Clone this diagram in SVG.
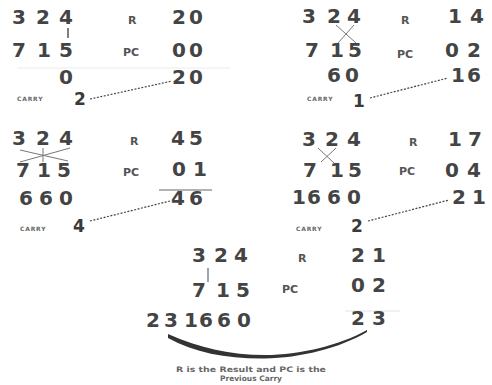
<svg xmlns="http://www.w3.org/2000/svg" width="492" height="385" viewBox="0 0 492 385">
<style>
.d{font-family:"DejaVu Sans",Verdana,sans-serif;font-size:20px;font-weight:bold;fill:#444}
.c{font-family:"DejaVu Sans",Verdana,sans-serif;font-size:17px;font-weight:bold;fill:#3a3a3a}
.l{font-family:"DejaVu Sans",Verdana,sans-serif;font-size:11px;font-weight:bold;fill:#555}
.s{font-family:"DejaVu Sans",Verdana,sans-serif;font-size:6px;font-weight:bold;fill:#666;letter-spacing:0.8px}
.x{stroke:#777;stroke-width:1;fill:none}
.dot{stroke:#444;stroke-width:1.2;stroke-dasharray:2 1.5;fill:none}
.cap{font-family:"DejaVu Sans",Verdana,sans-serif;font-size:7.5px;font-weight:bold;fill:#666}
</style>
<rect width="492" height="385" fill="#fff"/>
<g id="step1">
<text class="d" x="12 36 59" y="24">324</text>
<line x1="68" y1="28" x2="68" y2="38" stroke="#555" stroke-width="1.5"/>
<text class="d" x="12 37 59" y="57">715</text>
<line x1="17" y1="68" x2="230" y2="68" stroke="#ececec" stroke-width="1"/>
<text class="d" x="59" y="84">0</text>
<text class="l" x="128" y="24">R</text>
<text class="l" x="123" y="56">PC</text>
<text class="d" x="172 189" y="24">20</text>
<text class="d" x="172 189" y="57">00</text>
<text class="d" x="172 189" y="84">20</text>
<text class="s" x="17" y="101">CARRY</text>
<text class="c" x="74" y="105">2</text>
</g>
<g id="step2">
<text class="d" x="302 327 347" y="23">324</text>
<path class="x" d="M336 25 L356 43 M354 25 L338 43"/>
<text class="d" x="305 330 348" y="57">715</text>
<text class="d" x="327 345" y="82">60</text>
<text class="l" x="401" y="24">R</text>
<text class="l" x="397" y="58">PC</text>
<text class="d" x="448 470" y="23">14</text>
<text class="d" x="445 467" y="57">02</text>
<text class="d" x="451 467" y="82">16</text>
<text class="s" x="307" y="101">CARRY</text>
<text class="c" x="353" y="107">1</text>
</g>
<g id="step3">
<text class="d" x="12 36 59" y="145">324</text>
<path class="x" d="M20 150 L68 161 M20 162 L70 148 M43 148 L43 162"/>
<text class="d" x="16 37 57" y="177">715</text>
<text class="d" x="19 39 59" y="205">660</text>
<text class="l" x="130" y="145">R</text>
<text class="l" x="123" y="176">PC</text>
<text class="d" x="171 189" y="145">45</text>
<text class="d" x="172 193" y="176">01</text>
<line x1="159" y1="190" x2="212" y2="190" stroke="#666" stroke-width="1"/>
<text class="d" x="171 189" y="205">46</text>
<text class="s" x="20" y="231">CARRY</text>
<text class="c" x="73" y="232">4</text>
</g>
<g id="step4">
<text class="d" x="302 325 347" y="146">324</text>
<path class="x" d="M318 148 L334 163 M336 148 L321 162"/>
<text class="d" x="303 330 348" y="177">715</text>
<text class="d" x="292 307 327 347" y="204">1660</text>
<text class="l" x="409" y="146">R</text>
<text class="l" x="399" y="175">PC</text>
<text class="d" x="448 468" y="146">17</text>
<text class="d" x="445 467" y="177">04</text>
<text class="d" x="452 472" y="204">21</text>
<text class="s" x="296" y="231">CARRY</text>
<text class="c" x="351" y="232">2</text>
</g>
<g id="step5">
<text class="d" x="192 214 234" y="262">324</text>
<line x1="208" y1="268" x2="208" y2="282" stroke="#9aa6b8" stroke-width="2"/>
<text class="d" x="192 216 236" y="297">715</text>
<text class="d" x="146 164 184 199 217 237" y="327">231660</text>
<text class="l" x="298" y="262">R</text>
<text class="l" x="282" y="293">PC</text>
<text class="d" x="351 372" y="262">21</text>
<text class="d" x="351 372" y="292">02</text>
<line x1="345" y1="311" x2="400" y2="311" stroke="#e4e4e4" stroke-width="1"/>
<text class="d" x="351 372" y="325">23</text>
</g>
<g id="connectors">
<line class="dot" x1="90" y1="99" x2="172" y2="81"/>
<line class="dot" x1="370" y1="98" x2="448" y2="78"/>
<line class="dot" x1="90" y1="221" x2="170" y2="201"/>
<line class="dot" x1="368" y1="221" x2="449" y2="200"/>
<path d="M168 334 C200 348 230 355 265 355 C300 355 340 345 367 330 L367 332 C340 348 300 358 265 358.5 C228 359 195 353 168 338 Z" fill="#333"/>
</g>
<g id="caption">
<text class="cap" x="251" y="372" text-anchor="middle" textLength="150" lengthAdjust="spacingAndGlyphs">R is the Result and PC is the</text>
<text class="cap" x="251" y="381" text-anchor="middle" textLength="62" lengthAdjust="spacingAndGlyphs">Previous Carry</text>
</g>
</svg>
